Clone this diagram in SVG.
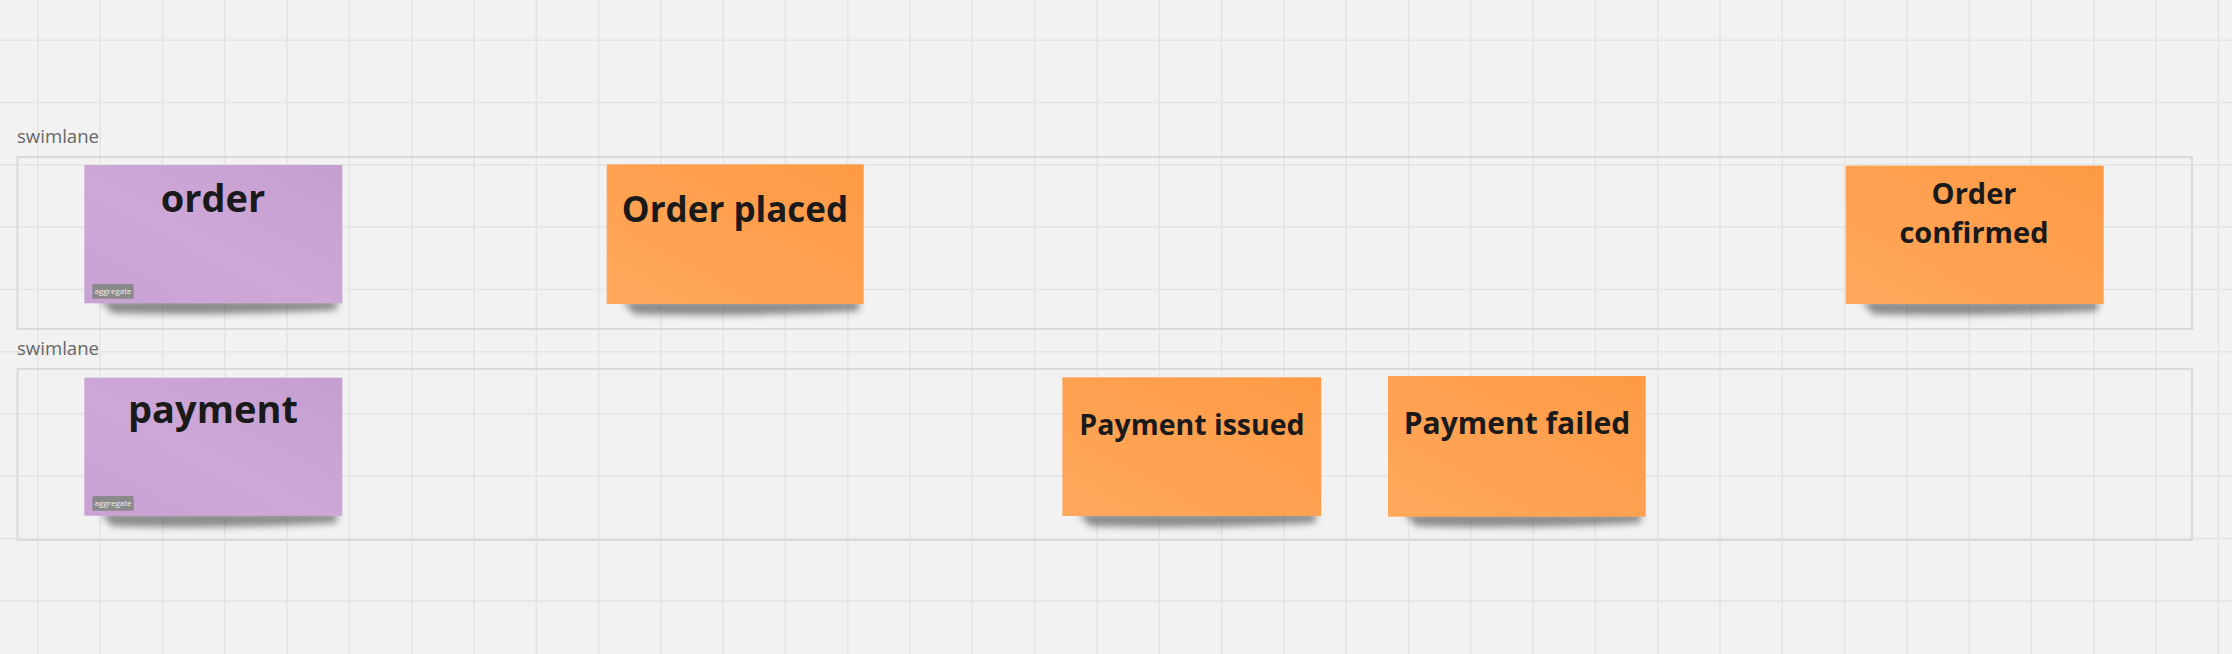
<svg xmlns="http://www.w3.org/2000/svg" width="2232" height="654" viewBox="0 0 2232 654">
<style>
.grid{stroke:#e4e4e4;stroke-width:1.5;fill:none}
.lane{fill:none;stroke:#dadada;stroke-width:2}
.lanelabel{font-family:"Open Sans","Liberation Sans",sans-serif;font-size:18.6px;fill:#666}
.t{font-family:"Open Sans","Liberation Sans",sans-serif;font-weight:bold;fill:#1a1a1a;text-anchor:middle}
.tag{fill:#8a8a8a}
.tagt{font-family:"Open Sans","Liberation Sans",sans-serif;font-size:8px;fill:#eeeeee;text-anchor:middle}
.shadow{fill:#454545;opacity:0.6;filter:url(#blur)}
</style>
<defs>
<linearGradient id="gOrange" x1="1" y1="0" x2="0" y2="1">
<stop offset="0" stop-color="#fe9a46"/>
<stop offset="0.5" stop-color="#fea150"/>
<stop offset="1" stop-color="#ffa85c"/>
</linearGradient>
<linearGradient id="gPurple" x1="1" y1="0" x2="0" y2="1">
<stop offset="0" stop-color="#c59ed0"/>
<stop offset="0.55" stop-color="#cda8d7"/>
<stop offset="1" stop-color="#c8a2d3"/>
</linearGradient>
<filter id="blur" x="-20%" y="-100%" width="140%" height="300%">
<feGaussianBlur stdDeviation="3.5"/>
</filter>
</defs>
<rect x="0" y="0" width="2232" height="654" fill="#f2f2f2"/>
<g id="grid">
<path class="grid" d="M37.9 0V654M100.2 0V654M162.5 0V654M224.8 0V654M287.1 0V654M349.4 0V654M411.7 0V654M474 0V654M536.3 0V654M598.6 0V654M660.9 0V654M723.2 0V654M785.5 0V654M847.8 0V654M910.1 0V654M972.4 0V654M1034.7 0V654M1097 0V654M1159.3 0V654M1221.6 0V654M1283.9 0V654M1346.2 0V654M1408.5 0V654M1470.8 0V654M1533.1 0V654M1595.4 0V654M1657.7 0V654M1720 0V654M1782.3 0V654M1844.6 0V654M1906.9 0V654M1969.2 0V654M2031.5 0V654M2093.8 0V654M2156.1 0V654M2218.4 0V654"/>
<path class="grid" d="M0 40.2H2232M0 102.5H2232M0 164.8H2232M0 227.1H2232M0 289.4H2232M0 351.7H2232M0 414H2232M0 476.3H2232M0 538.6H2232M0 600.9H2232"/>
</g>
<g id="lane-1">
<text class="lanelabel" x="17" y="143">swimlane</text>
<rect class="lane" x="17.5" y="157" width="2174.5" height="172"/>
</g>
<g id="lane-2">
<text class="lanelabel" x="17" y="355">swimlane</text>
<rect class="lane" x="17.5" y="369" width="2174.5" height="171"/>
</g>
<g id="connectors"></g>
<g id="node-order">
<path class="shadow" d="M100 300 L338 300 L336 310 Q220 316 112 313 Z"/>
<rect x="84.3" y="165" width="258" height="138.3" fill="url(#gPurple)"/>
<text class="t" x="213" y="212" font-size="38">order</text>
<rect class="tag" x="92.3" y="284" width="41.4" height="14.7" rx="1.5"/>
<text class="tagt" x="113" y="294">aggregate</text>
</g>
<g id="node-order-placed">
<path class="shadow" d="M622 301 L860 301 L858 311 Q740 317 634 314 Z"/>
<rect x="606.7" y="164.3" width="257" height="139.7" fill="url(#gOrange)"/>
<text class="t" x="735" y="221.5" font-size="35">Order placed</text>
</g>
<g id="node-order-confirmed">
<path class="shadow" d="M1861 301 L2099 301 L2097 311 Q1980 317 1873 314 Z"/>
<rect x="1845.7" y="165.7" width="258" height="138.3" fill="url(#gOrange)"/>
<text class="t" x="1974" y="204.3" font-size="29">Order</text>
<text class="t" x="1974" y="242.7" font-size="29">confirmed</text>
</g>
<g id="node-payment">
<path class="shadow" d="M100 513 L338 513 L336 523 Q220 529 112 526 Z"/>
<rect x="84.3" y="377.7" width="258" height="138" fill="url(#gPurple)"/>
<text class="t" x="213" y="423.3" font-size="38">payment</text>
<rect class="tag" x="92.3" y="496" width="41.4" height="14.7" rx="1.5"/>
<text class="tagt" x="113" y="506">aggregate</text>
</g>
<g id="node-payment-issued">
<path class="shadow" d="M1078 513 L1317 513 L1315 523 Q1198 529 1090 526 Z"/>
<rect x="1062.4" y="377.3" width="258.8" height="138.7" fill="url(#gOrange)"/>
<text class="t" x="1192" y="435" font-size="28.5">Payment issued</text>
</g>
<g id="node-payment-failed">
<path class="shadow" d="M1404 513 L1642 513 L1640 523 Q1523 529 1416 526 Z"/>
<rect x="1388" y="376" width="257.7" height="140.7" fill="url(#gOrange)"/>
<text class="t" x="1517" y="434" font-size="30">Payment failed</text>
</g>
</svg>
